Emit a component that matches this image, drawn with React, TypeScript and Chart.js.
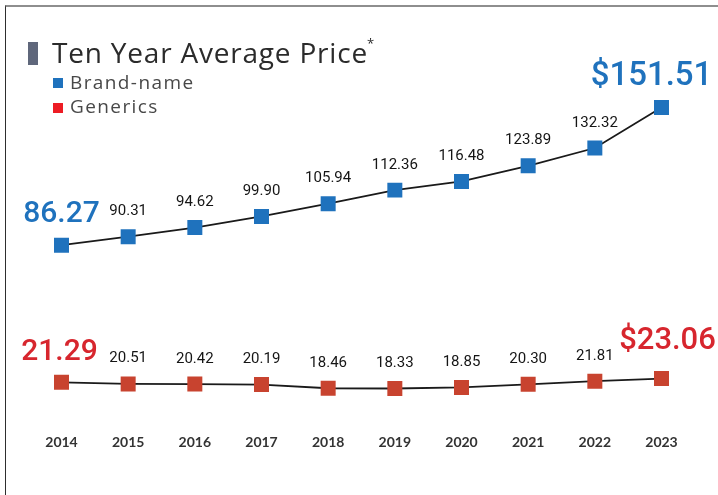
import React, { useEffect, useRef } from "react";
import { Chart, registerables } from "chart.js";

Chart.register(...registerables);

const years = ["2014", "2015", "2016", "2017", "2018", "2019", "2020", "2021", "2022", "2023"];
const brandName = [86.27, 90.31, 94.62, 99.9, 105.94, 112.36, 116.48, 123.89, 132.32, 151.51];
const generics = [21.29, 20.51, 20.42, 20.19, 18.46, 18.33, 18.85, 20.3, 21.81, 23.06];
const seriesNames = ["Brand-name", "Generics"];
const titleText = "Ten Year Average Price";

const BLUE = "#1f72bd";
const RED_MARK = "#c8432f";
const RED_TEXT = "#d7262e";
const RED_LEGEND = "#ed1c24";

// label styling per dataset: [first, last] offsets
const endStyles = [
  { color: BLUE, first: { size: 30, dx: 0, dy: -23 }, last: { size: 33, dx: -10, dy: -22.5 } },
  { color: RED_TEXT, first: { size: 30, dx: -2, dy: -22 }, last: { size: 31, dx: 6, dy: -30 } },
];

const valueLabels = {
  id: "valueLabels",
  afterDatasetsDraw(chart: any) {
    const ctx = chart.ctx;
    ctx.save();
    chart.data.datasets.forEach((ds: any, di: number) => {
      const meta = chart.getDatasetMeta(di);
      const st = endStyles[di];
      const n = ds.data.length;
      meta.data.forEach((pt: any, i: number) => {
        const v = ds.data[i] as number;
        ctx.textAlign = "center";
        ctx.textBaseline = "alphabetic";
        if (i === 0 || i === n - 1) {
          const s = i === 0 ? st.first : st.last;
          ctx.fillStyle = st.color;
          ctx.font = `500 ${s.size}px Roboto`;
          const txt = (i === n - 1 ? "$" : "") + v.toFixed(2);
          ctx.fillText(txt, pt.x + s.dx, pt.y + s.dy);
        } else {
          ctx.fillStyle = "#151515";
          ctx.font = "400 15px Roboto";
          ctx.fillText(v.toFixed(2), pt.x, pt.y - 21.5);
        }
      });
    });
    ctx.restore();
  },
};

export default function App() {
  const ref = useRef<HTMLCanvasElement | null>(null);

  useEffect(() => {
    if (!ref.current) return;
    const chart = new Chart(ref.current, {
      type: "line",
      data: {
        labels: years,
        datasets: [
          {
            label: seriesNames[0],
            data: brandName,
            borderColor: "#1a1a1a",
            borderWidth: 1.8,
            backgroundColor: BLUE,
            pointBackgroundColor: BLUE,
            pointBorderWidth: 0,
            pointStyle: "rect",
            pointRadius: 10.6,
            tension: 0,
          },
          {
            label: seriesNames[1],
            data: generics,
            borderColor: "#1a1a1a",
            borderWidth: 1.8,
            backgroundColor: RED_MARK,
            pointBackgroundColor: RED_MARK,
            pointBorderWidth: 0,
            pointStyle: "rect",
            pointRadius: 10.6,
            tension: 0,
          },
        ],
      },
      options: {
        responsive: false,
        animation: false,
        layout: {
          autoPadding: false,
          padding: { left: 61.5, right: 56.5, top: 89.6, bottom: 37.8 },
        },
        plugins: {
          legend: { display: false },
          tooltip: { enabled: false },
          title: { display: false },
        },
        scales: {
          x: {
            offset: false,
            grid: { display: false, drawTicks: false },
            border: { display: false },
            ticks: {
              padding: 6.6,
              color: "#333333",
              font: { family: "Lato", size: 14, weight: "bold" },
              maxRotation: 0,
              autoSkip: false,
            },
          },
          y: {
            display: false,
            min: 0,
            max: 160,
          },
        },
      },
      plugins: [valueLabels],
    } as any);
    return () => chart.destroy();
  }, []);

  return (
    <div style={{ position: "fixed", left: 0, top: 0, width: 718, height: 495, background: "#ffffff", overflow: "hidden" }}>
      <canvas ref={ref} width={718} height={495} style={{ position: "absolute", left: 0, top: 0, width: 718, height: 495 }} />
      <div
        style={{
          position: "absolute",
          left: 5,
          top: 5,
          right: 0,
          bottom: 0,
          borderTop: "2px solid #8e8e8e",
          borderLeft: "1px solid #2e2e2e",
          pointerEvents: "none",
        }}
      />
      <div style={{ position: "absolute", left: 28, top: 42, width: 10, height: 23, background: "#5f677b" }} />
      <div
        style={{
          position: "absolute",
          left: 52,
          top: 38.2,
          fontFamily: "'Open Sans', sans-serif",
          fontSize: 28,
          lineHeight: 1,
          letterSpacing: 0.8,
          color: "#2b2b2b",
          whiteSpace: "nowrap",
        }}
      >
        {titleText}
        <span style={{ fontSize: 13, verticalAlign: "top", position: "relative", top: -1, marginLeft: -1 }}>*</span>
      </div>
      {seriesNames.map((name, i) => (
        <React.Fragment key={name}>
          <div
            style={{
              position: "absolute",
              left: 53,
              top: 78 + i * 25,
              width: 10,
              height: 10,
              background: i === 0 ? BLUE : RED_LEGEND,
            }}
          />
          <div
            style={{
              position: "absolute",
              left: 70,
              top: 73.1 + i * 24,
              fontFamily: "'Open Sans', sans-serif",
              fontSize: 19,
              lineHeight: 1,
              letterSpacing: 1.4,
              color: "#484848",
              whiteSpace: "nowrap",
            }}
          >
            {name}
          </div>
        </React.Fragment>
      ))}
    </div>
  );
}
